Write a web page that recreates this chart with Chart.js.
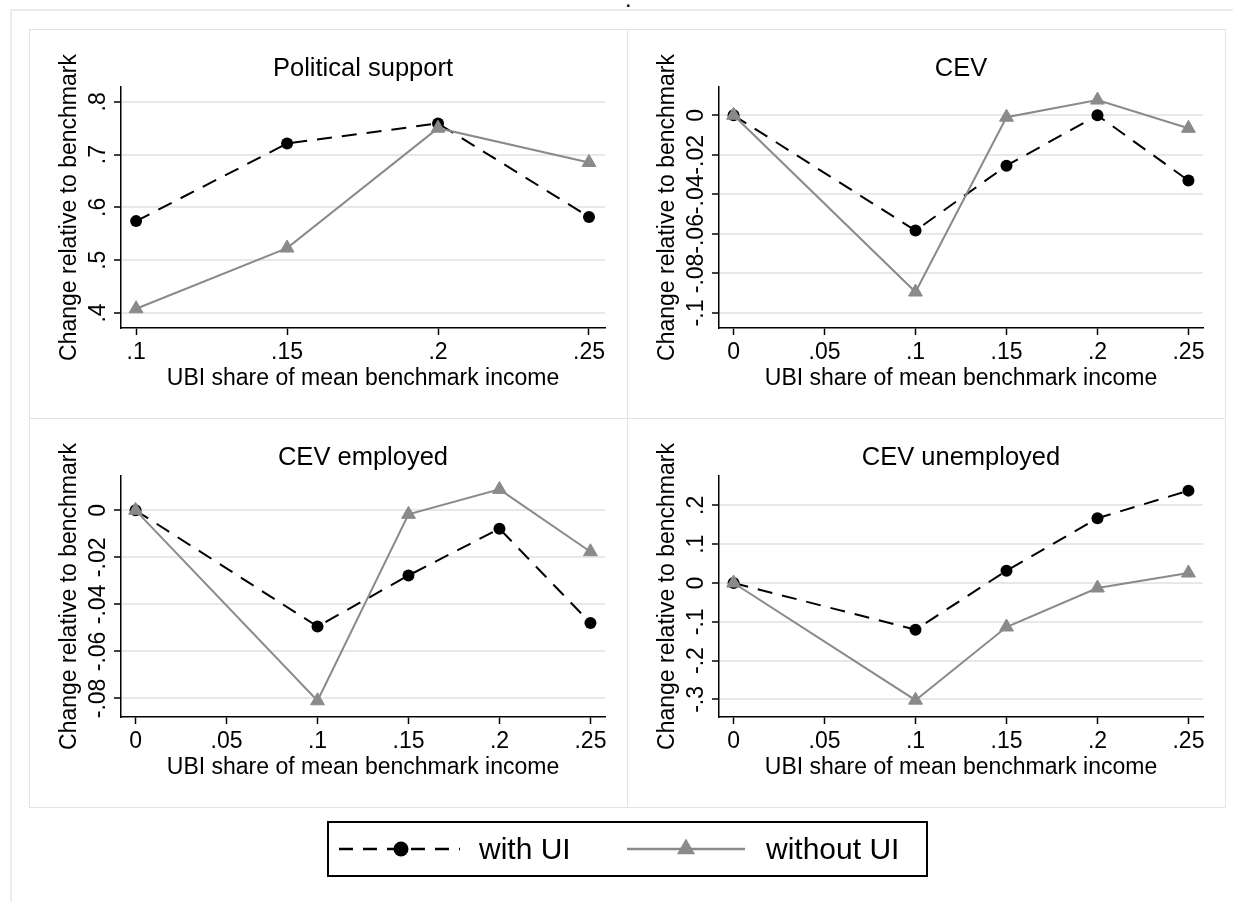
<!DOCTYPE html>
<html>
<head>
<meta charset="utf-8">
<script src="https://cdn.jsdelivr.net/npm/chart.js@4.4.1/dist/chart.umd.min.js"></script>
<style>
  body { margin: 0; background: #fff; width: 1233px; height: 902px; overflow: hidden; position: relative;
         font-family: "Liberation Sans", Arial, Helvetica, sans-serif; }
  .frame-top { position: absolute; left: 10px; top: 9px; width: 1223px; height: 2px; background: #ececec; }
  .frame-left { position: absolute; left: 10px; top: 9px; width: 2px; height: 893px; background: #ececec; }
  .dot { position: absolute; left: 625px; top: -12px; font-size: 23px; line-height: 23px; color: #000; }
  .panel { position: absolute; width: 598px; height: 389px; }
  .panel canvas { position: absolute; left: 0; top: 0; }
  .pborder { position: absolute; box-sizing: border-box; width: 599px; height: 390px; border: 1px solid #e3e3e3; }
  .legend { position: absolute; left: 327px; top: 821px; width: 601px; height: 56px; box-sizing: border-box;
            border: 2px solid #000; background: #fff; }
  .legend canvas { position: absolute; left: 0; top: 0; }
  .legend span { position: absolute; font-size: 30px; line-height: 30px; color: #000; white-space: nowrap; }
</style>
</head>
<body>
<div class="frame-top"></div>
<div class="frame-left"></div>
<div class="dot">.</div>

<div class="pborder" style="left:29px;top:29px"></div>
<div class="pborder" style="left:627px;top:29px"></div>
<div class="pborder" style="left:29px;top:418px"></div>
<div class="pborder" style="left:627px;top:418px"></div>

<div class="panel" style="left:30px;top:30px"><canvas id="psChart" width="598" height="389"></canvas></div>
<div class="panel" style="left:628px;top:30px"><canvas id="cevChart" width="598" height="389"></canvas></div>
<div class="panel" style="left:30px;top:419px"><canvas id="empChart" width="598" height="389"></canvas></div>
<div class="panel" style="left:628px;top:419px"><canvas id="unempChart" width="598" height="389"></canvas></div>

<div class="legend">
  <canvas id="legendKeys" width="597" height="52"></canvas>
  <span style="left:150px;top:11px">with UI</span>
  <span style="left:437px;top:11px">without UI</span>
</div>

<script>
// x values (UBI share of mean benchmark income)
var psX = [0.1, 0.15, 0.2, 0.25];
var cevX = [0, 0.1, 0.15, 0.2, 0.25];

// Political support
var psWithUI = [0.574, 0.721, 0.759, 0.582];
var psWithoutUI = [0.408, 0.523, 0.750, 0.685];

// CEV
var cevWithUI = [0, -0.0583, -0.0255, 0, -0.033];
var cevWithoutUI = [0, -0.0894, -0.001, 0.0077, -0.0066];

// CEV employed
var empWithUI = [0, -0.0494, -0.0277, -0.0078, -0.0479];
var empWithoutUI = [0, -0.081, -0.0017, 0.0089, -0.0176];

// CEV unemployed
var unempWithUI = [0, -0.1203, 0.0317, 0.1668, 0.2381];
var unempWithoutUI = [0, -0.302, -0.1134, -0.0129, 0.0258];

// tick values and labels
var psXTicks = [0.1, 0.15, 0.2, 0.25];
var psXLabels = ['.1', '.15', '.2', '.25'];
var cevXTicks = [0, 0.05, 0.1, 0.15, 0.2, 0.25];
var cevXLabels = ['0', '.05', '.1', '.15', '.2', '.25'];

var psYTicks = [0.4, 0.5, 0.6, 0.7, 0.8];
var psYLabels = ['.4', '.5', '.6', '.7', '.8'];
var cevYTicks = [-0.1, -0.08, -0.06, -0.04, -0.02, 0];
var cevYLabels = ['-.1', '-.08', '-.06', '-.04', '-.02', '0'];
var empYTicks = [-0.08, -0.06, -0.04, -0.02, 0];
var empYLabels = ['-.08', '-.06', '-.04', '-.02', '0'];
var unempYTicks = [-0.3, -0.2, -0.1, 0, 0.1, 0.2];
var unempYLabels = ['-.3', '-.2', '-.1', '0', '.1', '.2'];

var FONT = '"Liberation Sans", Arial, Helvetica, sans-serif';
var GRAY = '#8a8a8a';

Chart.defaults.font.family = FONT;
Chart.defaults.color = '#000';

function toPoints(xs, ys) {
    return xs.map(function(x, i) { return { x: x, y: ys[i] }; });
}

// Stata draws the y tick labels turned on their side
function rotatedYLabels(labels) {
    return {
        id: 'rotatedYLabels',
        afterDraw: function(chart) {
            var scale = chart.scales.y;
            var ctx = chart.ctx;
            ctx.save();
            ctx.font = '23px ' + FONT;
            ctx.fillStyle = '#000';
            ctx.textAlign = 'center';
            ctx.textBaseline = 'alphabetic';
            scale.ticks.forEach(function(t, i) {
                var py = scale.getPixelForValue(t.value);
                ctx.save();
                ctx.translate(scale.right - 16, py);
                ctx.rotate(-Math.PI / 2);
                ctx.fillText(labels[i], 0, 0);
                ctx.restore();
            });
            ctx.restore();
        }
    };
}

function makePanel(id, title, xs, withUI, withoutUI, xTicks, xLabels, xMin, xMax, yTicks, yLabels, yMin, yMax) {
    var ctx = document.getElementById(id).getContext('2d');
    return new Chart(ctx, {
        type: 'line',
        data: {
            datasets: [
                {
                    label: 'without UI',
                    data: toPoints(xs, withoutUI),
                    order: 0,
                    borderColor: GRAY,
                    borderWidth: 2,
                    backgroundColor: GRAY,
                    pointStyle: 'triangle',
                    pointRadius: 8,
                    pointBackgroundColor: GRAY,
                    pointBorderColor: GRAY,
                    pointBorderWidth: 1,
                    tension: 0,
                    fill: false
                },
                {
                    label: 'with UI',
                    data: toPoints(xs, withUI),
                    order: 1,
                    borderColor: '#000',
                    borderWidth: 2,
                    borderDash: [15, 10],
                    backgroundColor: '#000',
                    pointStyle: 'circle',
                    pointRadius: 6,
                    pointBackgroundColor: '#000',
                    pointBorderColor: '#000',
                    pointBorderWidth: 0,
                    tension: 0,
                    fill: false
                }
            ]
        },
        options: {
            responsive: false,
            animation: false,
            clip: false,
            events: [],
            layout: { padding: { left: 0, right: 23, top: 0, bottom: 0 } },
            plugins: {
                legend: { display: false },
                tooltip: { enabled: false },
                title: {
                    display: true,
                    text: title,
                    fullSize: false,
                    color: '#000',
                    font: { size: 25.5, weight: 'normal' },
                    padding: { top: 23.2, bottom: 3.2 }
                }
            },
            scales: {
                x: {
                    type: 'linear',
                    min: xMin,
                    max: xMax,
                    afterBuildTicks: function(scale) {
                        scale.ticks = xTicks.map(function(v) { return { value: v }; });
                    },
                    afterFit: function(scale) { scale.height = 91; },
                    ticks: {
                        autoSkip: false,
                        maxRotation: 0,
                        padding: 4,
                        font: { size: 23 },
                        color: '#000',
                        callback: function(value, index) { return xLabels[index]; }
                    },
                    grid: {
                        drawOnChartArea: false,
                        drawTicks: true,
                        tickLength: 7,
                        tickColor: '#000',
                        tickWidth: 1.5
                    },
                    border: { display: true, color: '#000', width: 1.5 },
                    title: {
                        display: true,
                        text: 'UBI share of mean benchmark income',
                        color: '#000',
                        font: { size: 23 },
                        padding: { top: 0, bottom: 27 }
                    }
                },
                y: {
                    type: 'linear',
                    min: yMin,
                    max: yMax,
                    afterBuildTicks: function(scale) {
                        scale.ticks = yTicks.map(function(v) { return { value: v }; });
                    },
                    afterFit: function(scale) { scale.width = 91; },
                    ticks: { display: false },
                    grid: {
                        color: '#e8e8e8',
                        lineWidth: 2,
                        drawTicks: true,
                        tickLength: 7,
                        tickColor: '#000',
                        tickWidth: 1.5
                    },
                    border: { display: true, color: '#000', width: 1.5 },
                    title: {
                        display: true,
                        text: 'Change relative to benchmark',
                        color: '#000',
                        font: { size: 23 },
                        padding: { top: 26, bottom: 0 }
                    }
                }
            }
        },
        plugins: [rotatedYLabels(yLabels)]
    });
}

makePanel('psChart', 'Political support', psX, psWithUI, psWithoutUI,
    psXTicks, psXLabels, 0.0950, 0.2553, psYTicks, psYLabels, 0.3716, 0.828);
makePanel('cevChart', 'CEV', cevX, cevWithUI, cevWithoutUI,
    cevXTicks, cevXLabels, -0.008, 0.258, cevYTicks, cevYLabels, -0.1076, 0.0143);
makePanel('empChart', 'CEV employed', cevX, empWithUI, empWithoutUI,
    cevXTicks, cevXLabels, -0.008, 0.258, empYTicks, empYLabels, -0.0879, 0.0146);
makePanel('unempChart', 'CEV unemployed', cevX, unempWithUI, unempWithoutUI,
    cevXTicks, cevXLabels, -0.008, 0.258, unempYTicks, unempYLabels, -0.3454, 0.2758);

// legend keys (line samples with their markers)
(function() {
    var c = document.getElementById('legendKeys').getContext('2d');
    var cy = 26;
    c.lineWidth = 2.5;
    c.strokeStyle = '#000';
    c.setLineDash([14, 10]);
    c.beginPath(); c.moveTo(10, cy); c.lineTo(131, cy); c.stroke();
    c.setLineDash([]);
    c.fillStyle = '#000';
    c.beginPath(); c.arc(72, cy, 7.5, 0, Math.PI * 2); c.fill();

    c.strokeStyle = GRAY;
    c.beginPath(); c.moveTo(298, cy); c.lineTo(416, cy); c.stroke();
    c.fillStyle = GRAY;
    var r = 10.5;
    c.beginPath();
    c.moveTo(357, cy - r);
    c.lineTo(357 + r * Math.sin(Math.PI * 2 / 3), cy + r / 2);
    c.lineTo(357 - r * Math.sin(Math.PI * 2 / 3), cy + r / 2);
    c.closePath(); c.fill();
})();
</script>
</body>
</html>
